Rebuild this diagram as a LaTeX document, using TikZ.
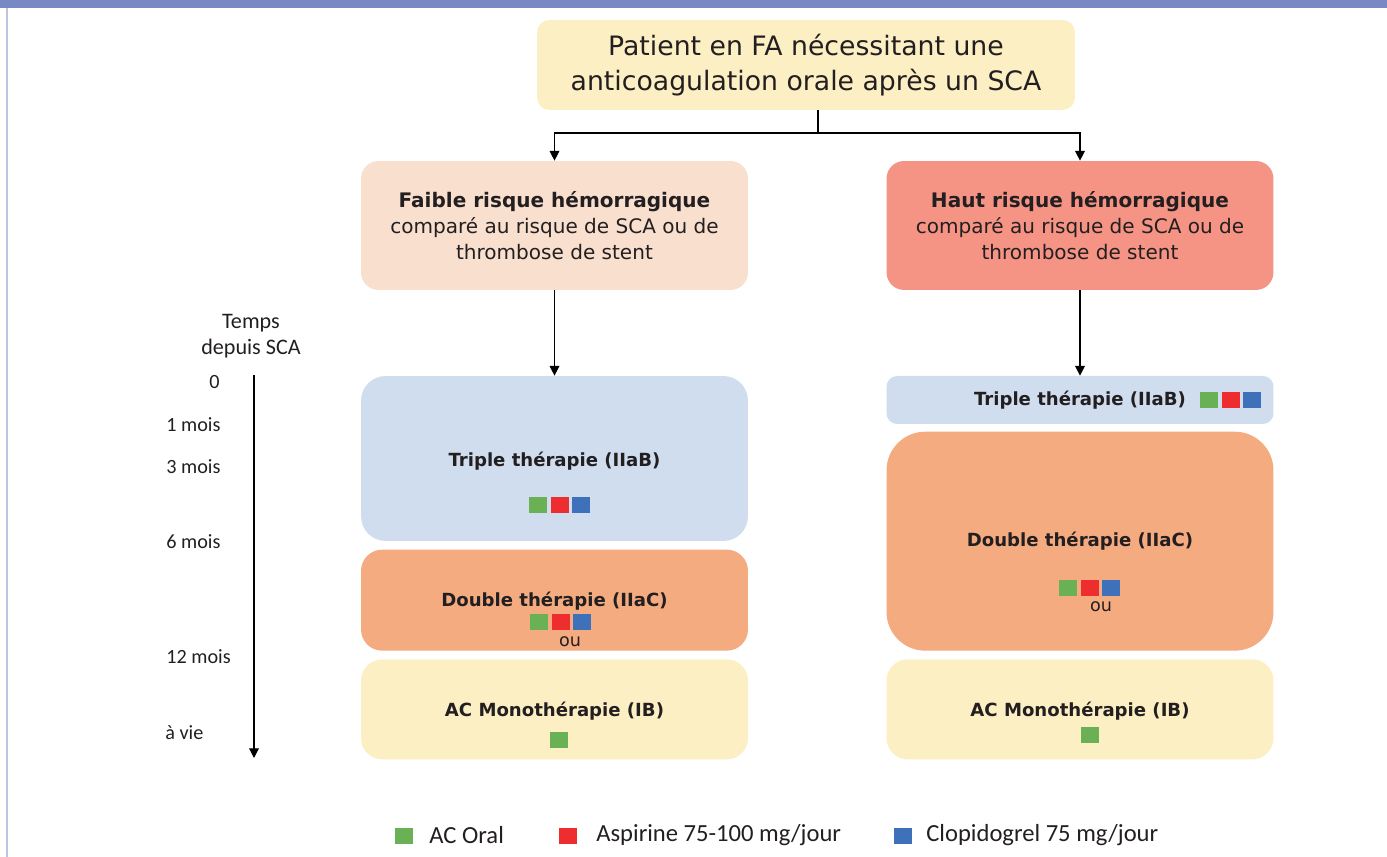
\documentclass[tikz,border=0pt]{standalone}
\usepackage{fontspec}
\setmainfont{DejaVu Sans}
\newfontfamily\calfont{Carlito}
\usetikzlibrary{arrows.meta, positioning}
\definecolor{barblue}{RGB}{120,137,196}
\definecolor{framegray}{RGB}{190,195,225}
\definecolor{textdark}{RGB}{35,31,32}
\definecolor{paleyellow}{RGB}{252,239,196}
\definecolor{peach}{RGB}{249,223,206}
\definecolor{salmon}{RGB}{245,148,133}
\definecolor{lightblue}{RGB}{207,221,238}
\definecolor{softorange}{RGB}{244,171,128}
\definecolor{oralgreen}{RGB}{106,177,85}
\definecolor{aspred}{RGB}{238,46,46}
\definecolor{clopblue}{RGB}{62,113,185}
\tikzset{
    block/.style={rectangle, minimum width=7.74cm, inner sep=0pt, align=center, text=textdark, font=\fontsize{11.4}{14.7}\selectfont},
    thertext/.style={text=textdark, font=\fontsize{10.3}{13}\selectfont\bfseries, inner sep=0pt},
    ortext/.style={text=textdark, font=\fontsize{10}{12}\selectfont, inner sep=0pt},
    timetext/.style={text=textdark, font=\calfont\fontsize{11.5}{14}\selectfont, inner sep=0pt},
    legtext/.style={text=textdark, font=\calfont\fontsize{14}{16}\selectfont, inner sep=0pt, anchor=west},
    med/.style={rectangle, minimum width=0.36cm, minimum height=0.32cm, inner sep=0pt},
    acoral/.style={med, fill=oralgreen},
    asp/.style={med, fill=aspred},
    clopi/.style={med, fill=clopblue},
    arrow/.style={line width=0.7pt, -{Triangle[length=5.5pt, width=5.5pt]}}
}
\begin{document}
\begin{tikzpicture}[x=0.02cm, y=-0.02cm]
    \useasboundingbox (0,0) rectangle (1387,857);

    % Frame
    \fill[barblue] (0,0) rectangle (1387,8);
    \draw[framegray, line width=0.8pt] (7,8) -- (7,857);

    % Title
    \node (title) [block, fill=paleyellow, minimum width=10.76cm, minimum height=1.8cm, rounded corners=7pt, font=\fontsize{15.2}{19.6}\selectfont] at (806,65) {Patient en FA nécessitant une\\anticoagulation orale après un SCA};
    \coordinate (split) at (818,133);

    % Risk boxes
    \node (faible) [block, fill=peach, minimum height=2.58cm, rounded corners=10pt] at (554.5,225.5) {\textbf{Faible risque hémorragique}\\comparé au risque de SCA ou de\\thrombose de stent};
    \node (haut) [block, fill=salmon, minimum height=2.58cm, rounded corners=10pt] at (1080,225.5) {\textbf{Haut risque hémorragique}\\comparé au risque de SCA ou de\\thrombose de stent};

    % Left column
    \node (ltriple) [block, fill=lightblue, minimum height=3.3cm, rounded corners=14pt] at (554.5,458.5) {};
    \node (ldouble) [block, fill=softorange, minimum height=2.02cm, rounded corners=12pt, below=0.16cm of ltriple] {};
    \node (lmono) [block, fill=paleyellow, minimum height=2cm, rounded corners=12pt, below=0.16cm of ldouble] {};

    % Right column
    \node (rtriple) [block, fill=lightblue, minimum height=0.96cm, rounded corners=6pt] at (1080,400) {};
    \node (rdouble) [block, fill=softorange, minimum height=4.38cm, rounded corners=22pt, below=0.14cm of rtriple] {};
    \node (rmono) [block, fill=paleyellow, minimum height=2cm, rounded corners=12pt, below=0.16cm of rdouble] {};

    % Therapy labels
    \node (ltripletxt) [thertext] at (554.5,461) {Triple thérapie (IIaB)};
    \node (ldoubletxt) [thertext] at (554.5,601) {Double thérapie (IIaC)};
    \node (lmonotxt) [thertext] at (554.5,711) {AC Monothérapie (IB)};
    \node (rtripletxt) [thertext] at (1080,400) {Triple thérapie (IIaB)};
    \node (rdoubletxt) [thertext] at (1080,541) {Double thérapie (IIaC)};
    \node (rmonotxt) [thertext] at (1080,711) {AC Monothérapie (IB)};
    \node (lou) [ortext] at (570,642) {ou};
    \node (rou) [ortext] at (1101,607) {ou};

    % Drug squares
    \node (lt1) [acoral] at (538,505) {};
    \node (lt2) [asp, right=0.06cm of lt1] {};
    \node (lt3) [clopi, right=0.06cm of lt2] {};
    \node (ld1) [acoral] at (539,622.5) {};
    \node (ld2) [asp, right=0.06cm of ld1] {};
    \node (ld3) [clopi, right=0.06cm of ld2] {};
    \node (lm1) [acoral] at (559,740) {};
    \node (rt1) [acoral] at (1209,400.5) {};
    \node (rt2) [asp, right=0.06cm of rt1] {};
    \node (rt3) [clopi, right=0.06cm of rt2] {};
    \node (rd1) [acoral] at (1068,588) {};
    \node (rd2) [asp, right=0.06cm of rd1] {};
    \node (rd3) [clopi, right=0.06cm of rd2] {};
    \node (rm1) [acoral] at (1089.5,735) {};

    % Connectors
    \draw[line width=0.7pt] (title.south -| split) -- (split);
    \draw[arrow] (split) -| (faible.north);
    \draw[arrow] (split) -| (haut.north);
    \draw[arrow] (faible) -- (ltriple);
    \draw[arrow] (haut) -- (rtriple);

    % Time axis
    \node (temps) [timetext, align=center, font=\calfont\fontsize{12.6}{14.8}\selectfont] at (251,336) {Temps\\depuis SCA};
    \coordinate (tstart) at (254,375);
    \coordinate (tend) at (254,758);
    \draw[arrow] (tstart) -- (tend);
    \node (t0) [timetext, anchor=west] at (209,382) {0};
    \node (t1) [timetext, anchor=west] at (166,425) {1 mois};
    \node (t3) [timetext, anchor=west] at (166,467) {3 mois};
    \node (t6) [timetext, anchor=west] at (166,542) {6 mois};
    \node (t12) [timetext, anchor=west] at (166,657) {12 mois};
    \node (tvie) [timetext, anchor=west] at (165,733) {à vie};

    % Legend
    \node (keyoral) [acoral] at (404,836) {};
    \node (keyoraltxt) [legtext] at (429,835) {AC Oral};
    \node (keyasp) [asp] at (568,836) {};
    \node (keyasptxt) [legtext] at (596,835) {Aspirine 75-100 mg/jour};
    \node (keyclop) [clopi] at (903,836) {};
    \node (keycloptxt) [legtext] at (926,835) {Clopidogrel 75 mg/jour};
\end{tikzpicture}
\end{document}
